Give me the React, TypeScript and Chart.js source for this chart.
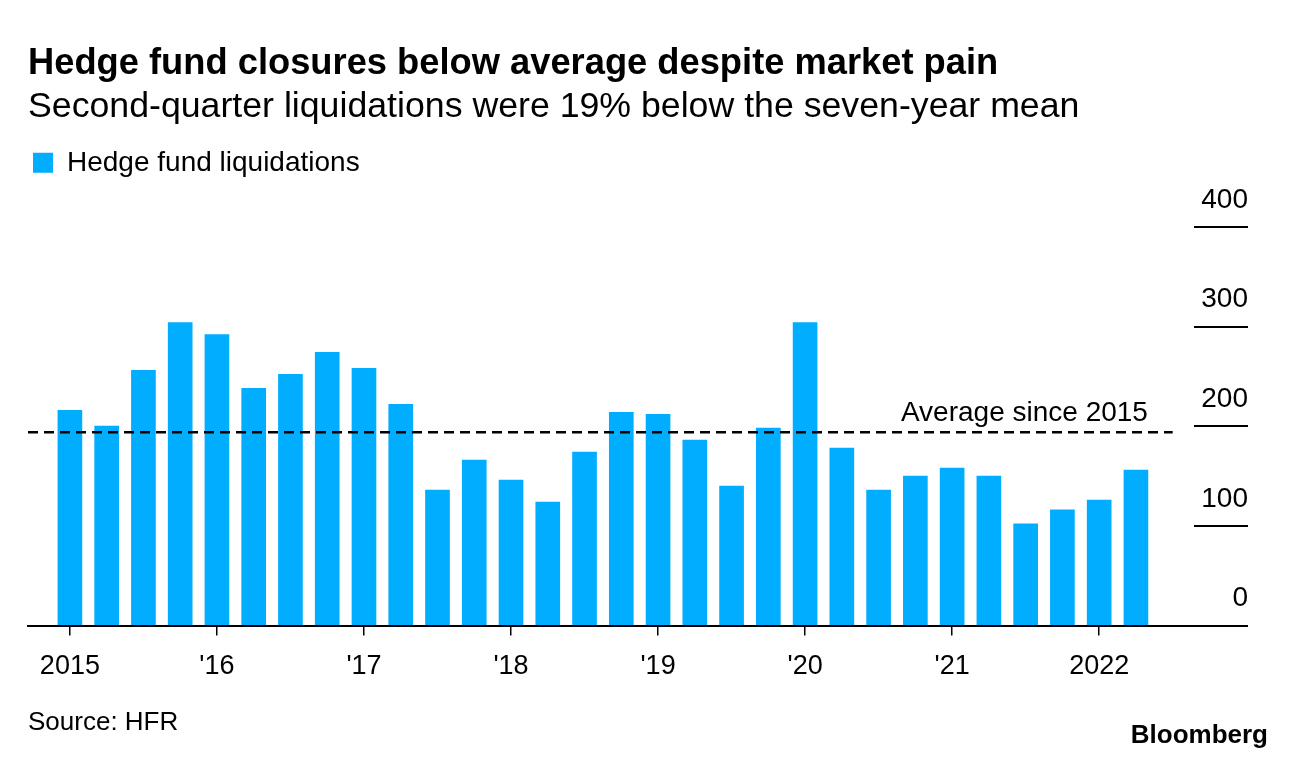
import { useEffect, useRef } from 'react';
import { Chart, registerables } from 'chart.js';

Chart.register(...registerables);

const FONT = "'Liberation Sans', Arial, Helvetica, sans-serif";

const TITLE = 'Hedge fund closures below average despite market pain';
const SUBTITLE = 'Second-quarter liquidations were 19% below the seven-year mean';
const SERIES_LABEL = 'Hedge fund liquidations';
const AVG_LABEL = 'Average since 2015';
const SOURCE = 'Source: HFR';
const BRAND = 'Bloomberg';

const QUARTERS = [
  '2015 Q1', '2015 Q2', '2015 Q3', '2015 Q4',
  '2016 Q1', '2016 Q2', '2016 Q3', '2016 Q4',
  '2017 Q1', '2017 Q2', '2017 Q3', '2017 Q4',
  '2018 Q1', '2018 Q2', '2018 Q3', '2018 Q4',
  '2019 Q1', '2019 Q2', '2019 Q3', '2019 Q4',
  '2020 Q1', '2020 Q2', '2020 Q3', '2020 Q4',
  '2021 Q1', '2021 Q2', '2021 Q3', '2021 Q4',
  '2022 Q1', '2022 Q2',
];

const LIQUIDATIONS = [
  216, 200, 256, 304,
  292, 238, 252, 274,
  258, 222, 136, 166,
  146, 124, 174, 214,
  212, 186, 140, 198,
  304, 178, 136, 150,
  158, 150, 102, 116,
  126, 156,
];

const AVERAGE = 194;

const YEAR_TICK_QUARTERS = ['2015 Q1', '2016 Q1', '2017 Q1', '2018 Q1', '2019 Q1', '2020 Q1', '2021 Q1', '2022 Q1'];
const YEAR_TICK_LABELS = ['2015', "'16", "'17", "'18", "'19", "'20", "'21", '2022'];
const Y_TICKS = [0, 100, 200, 300, 400];

const BAR_COLOR = '#00adfe';
const BAR_WIDTH = 24;
const X_MIN = -1.14;
const X_MAX = 30.58;

const avgLabelPlugin = {
  id: 'avgLabel',
  afterDatasetsDraw(chart: any) {
    const { ctx, scales } = chart;
    const x = scales.x;
    const y = scales.y;
    ctx.save();
    ctx.font = `28px ${FONT}`;
    ctx.fillStyle = '#000';
    ctx.textAlign = 'right';
    ctx.textBaseline = 'alphabetic';
    ctx.fillText(
      AVG_LABEL,
      x.getPixelForValue(QUARTERS.length - 1) + BAR_WIDTH / 2,
      y.getPixelForValue(AVERAGE) - 11,
    );
    ctx.restore();
  },
};

const legendSpacer = {
  id: 'legendSpacer',
  beforeInit(chart: any) {
    const legend = chart.legend;
    if (!legend) return;
    const origFit = legend.fit;
    legend.fit = function () {
      origFit.call(this);
      this.height += 40;
    };
  },
};

export default function App() {
  const ref = useRef<HTMLCanvasElement | null>(null);

  useEffect(() => {
    if (!ref.current) return;
    const tickPositions = YEAR_TICK_QUARTERS.map((q) => QUARTERS.indexOf(q));
    const chart = new Chart(ref.current, {
      type: 'bar',
      data: {
        datasets: [
          {
            type: 'line',
            label: AVG_LABEL,
            data: [
              { x: X_MIN, y: AVERAGE },
              { x: QUARTERS.length, y: AVERAGE },
            ],
            borderColor: '#000',
            borderWidth: 2.5,
            borderDash: [10, 6],
            pointRadius: 0,
            fill: false,
            order: 0,
          } as any,
          {
            type: 'bar',
            label: SERIES_LABEL,
            data: LIQUIDATIONS.map((v, i) => ({ x: i, y: v })),
            backgroundColor: BAR_COLOR,
            borderWidth: 0,
            barThickness: BAR_WIDTH,
            order: 1,
          } as any,
        ],
      },
      options: {
        responsive: false,
        animation: false,
        devicePixelRatio: 1,
        layout: { padding: { top: 0, left: 28, right: 48, bottom: 62 } },
        plugins: {
          title: {
            display: true,
            text: TITLE,
            align: 'start',
            color: '#000',
            font: { family: FONT, size: 36.3, weight: 'bold', lineHeight: 1.2 },
            padding: { top: 42, bottom: 0 },
          },
          subtitle: {
            display: true,
            text: SUBTITLE,
            align: 'start',
            color: '#000',
            font: { family: FONT, size: 35.7, weight: 'normal', lineHeight: 1.2 },
            padding: { top: 0, bottom: 15.4 },
          },
          legend: {
            display: true,
            position: 'top',
            align: 'start',
            labels: {
              boxWidth: 20,
              boxHeight: 20,
              padding: 5,
              color: '#000',
              font: { family: FONT, size: 28 },
              filter: (item: any) => item.text === SERIES_LABEL,
            },
          },
          tooltip: { enabled: false },
        },
        scales: {
          x: {
            type: 'linear',
            min: X_MIN,
            max: X_MAX,
            offset: false,
            afterBuildTicks: (scale: any) => {
              scale.ticks = tickPositions.map((v) => ({ value: v }));
            },
            ticks: {
              autoSkip: false,
              maxRotation: 0,
              padding: 15,
              color: '#000',
              font: { family: FONT, size: 27 },
              callback: (v: any) => YEAR_TICK_LABELS[tickPositions.indexOf(Number(v))] ?? '',
            },
            grid: {
              display: true,
              drawOnChartArea: false,
              drawTicks: true,
              tickLength: 10,
              color: '#000',
              lineWidth: 1.5,
              offset: false,
            },
            border: { display: true, color: '#000', width: 2 },
          },
          y: {
            type: 'linear',
            position: 'right',
            min: Y_TICKS[0],
            max: Y_TICKS[Y_TICKS.length - 1],
            afterBuildTicks: (scale: any) => {
              scale.ticks = Y_TICKS.map((v) => ({ value: v }));
            },
            afterFit: (scale: any) => {
              scale.width = 54;
            },
            ticks: {
              crossAlign: 'far',
              padding: 0,
              labelOffset: -27,
              color: '#000',
              font: { family: FONT, size: 28 },
            },
            grid: {
              display: true,
              drawOnChartArea: false,
              drawTicks: true,
              tickLength: 54,
              color: '#000',
              lineWidth: 2,
            },
            border: { display: false },
          },
        },
      },
      plugins: [legendSpacer, avgLabelPlugin],
    });
    return () => chart.destroy();
  }, []);

  return (
    <div style={{ position: 'fixed', left: 0, top: 0, width: 1296, height: 760, background: '#fff' }}>
      <canvas ref={ref} width={1296} height={760} style={{ position: 'absolute', left: 0, top: 0, width: 1296, height: 760 }} />
      <div
        style={{
          position: 'absolute', left: 28, top: 708, fontFamily: FONT, fontSize: 26,
          lineHeight: '26px', color: '#000', whiteSpace: 'nowrap',
        }}
      >
        {SOURCE}
      </div>
      <div
        style={{
          position: 'absolute', right: 28, top: 721, fontFamily: FONT, fontSize: 26,
          fontWeight: 'bold', lineHeight: '26px', color: '#000', whiteSpace: 'nowrap',
        }}
      >
        {BRAND}
      </div>
    </div>
  );
}
